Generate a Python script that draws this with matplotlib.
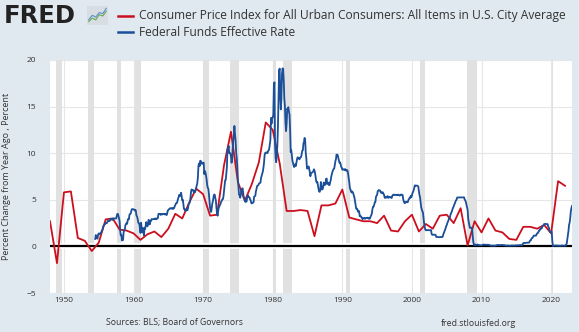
import matplotlib
matplotlib.use("Agg")
import matplotlib.pyplot as plt
import matplotlib.dates as mdates
import pandas as pd
import numpy as np

# CPI, percent change from year ago (annual, Dec/Dec), 1948-2022
cpi_years = list(range(1948, 2023))
cpi_pct = [2.7, -1.8, 5.8, 5.9, 0.9, 0.6, -0.5, 0.4, 2.9, 3.0,
           1.8, 1.7, 1.4, 0.7, 1.3, 1.6, 1.0, 1.9, 3.5, 3.0,
           4.7, 6.2, 5.6, 3.3, 3.4, 8.7, 12.3, 6.9, 4.9, 6.7,
           9.0, 13.3, 12.5, 8.9, 3.8, 3.8, 3.9, 3.8, 1.1, 4.4,
           4.4, 4.6, 6.1, 3.1, 2.9, 2.7, 2.7, 2.5, 3.3, 1.7,
           1.6, 2.7, 3.4, 1.6, 2.4, 1.9, 3.3, 3.4, 2.5, 4.1,
           0.1, 2.7, 1.5, 3.0, 1.7, 1.5, 0.8, 0.7, 2.1, 2.1,
           1.9, 2.3, 1.4, 7.0, 6.5]

# Federal funds effective rate, monthly from 1954-07
ff_start = "1954-07-01"
fedfunds = [
    0.80, 1.22, 1.07, 0.85, 0.83, 1.28,
    1.39, 1.29, 1.35, 1.43, 1.43, 1.64, 1.68, 1.96, 2.18, 2.24, 2.35, 2.48,
    2.45, 2.50, 2.50, 2.62, 2.75, 2.71, 2.75, 2.73, 2.95, 2.96, 2.88, 2.94,
    2.84, 3.00, 2.96, 3.00, 3.00, 3.00, 2.99, 3.24, 3.47, 3.50, 3.28, 2.98,
    2.72, 1.67, 1.20, 1.26, 0.63, 0.93, 0.68, 1.53, 1.76, 1.80, 2.27, 2.42,
    2.48, 2.43, 2.80, 2.96, 2.90, 3.39, 3.47, 3.50, 3.76, 3.98, 4.00, 3.99,
    3.99, 3.97, 3.84, 3.92, 3.85, 3.32, 3.23, 2.98, 2.60, 2.47, 2.44, 1.98,
    1.45, 2.54, 2.02, 1.49, 1.98, 1.73, 1.17, 2.00, 1.88, 2.26, 2.61, 2.33,
    2.15, 2.37, 2.85, 2.78, 2.36, 2.68, 2.71, 2.93, 2.90, 2.90, 2.94, 2.93,
    2.92, 3.00, 2.98, 2.90, 3.00, 2.99, 3.02, 3.49, 3.48, 3.50, 3.48, 3.38,
    3.48, 3.48, 3.43, 3.47, 3.50, 3.50, 3.42, 3.50, 3.45, 3.36, 3.52, 3.85,
    3.90, 3.98, 4.04, 4.09, 4.10, 4.04, 4.09, 4.12, 4.01, 4.08, 4.10, 4.32,
    4.42, 4.60, 4.65, 4.67, 4.90, 5.17, 5.30, 5.53, 5.40, 5.53, 5.76, 5.40,
    4.94, 5.00, 4.53, 4.05, 3.94, 3.98, 3.79, 3.90, 3.99, 3.88, 4.13, 4.51,
    4.61, 4.71, 5.05, 5.76, 6.11, 6.07, 6.02, 6.03, 5.78, 5.91, 5.82, 6.02,
    6.30, 6.61, 6.79, 7.41, 8.67, 8.90, 8.61, 9.19, 9.15, 9.00, 8.85, 8.97,
    8.98, 8.98, 7.76, 8.10, 7.95, 7.61, 7.21, 6.61, 6.29, 6.20, 5.60, 4.90,
    4.14, 3.72, 3.71, 4.15, 4.63, 4.91, 5.31, 5.56, 5.55, 5.20, 4.91, 4.14,
    3.50, 3.29, 3.83, 4.17, 4.27, 4.46, 4.55, 4.80, 4.87, 5.04, 5.06, 5.33,
    5.94, 6.58, 7.09, 7.12, 7.84, 8.49, 10.40, 10.50, 10.78, 10.01, 10.03, 9.95,
    9.65, 8.97, 9.35, 10.51, 11.31, 11.93, 12.92, 12.01, 11.34, 10.06, 9.45, 8.53,
    7.13, 6.24, 5.54, 5.49, 5.22, 5.55, 6.10, 6.14, 6.24, 5.82, 5.22, 5.20,
    4.87, 4.77, 4.84, 4.82, 5.29, 5.48, 5.31, 5.29, 5.25, 5.03, 4.95, 4.65,
    4.61, 4.68, 4.69, 4.73, 5.35, 5.39, 5.42, 5.90, 6.14, 6.47, 6.51, 6.56,
    6.70, 6.78, 6.79, 6.89, 7.36, 7.60, 7.81, 8.04, 8.45, 8.96, 9.76, 10.03,
    10.07, 10.06, 10.09, 10.01, 10.24, 10.29, 10.47, 10.94, 11.43, 13.77, 13.18, 13.78,
    13.82, 14.13, 17.19, 17.61, 10.98, 9.47, 9.03, 9.61, 10.87, 12.81, 15.85, 18.90,
    19.08, 15.93, 14.70, 15.72, 18.52, 19.10, 19.04, 17.82, 15.87, 15.08, 13.31, 12.37,
    13.22, 14.78, 14.68, 14.94, 14.45, 14.15, 12.59, 10.12, 10.31, 9.71, 9.20, 8.95,
    8.68, 8.51, 8.77, 8.80, 8.63, 8.98, 9.37, 9.56, 9.45, 9.48, 9.34, 9.47,
    9.56, 9.59, 9.91, 10.29, 10.32, 11.06, 11.23, 11.64, 11.30, 9.99, 9.43, 8.38,
    8.35, 8.50, 8.58, 8.27, 7.97, 7.53, 7.88, 7.90, 7.92, 7.99, 8.05, 8.27,
    8.14, 7.86, 7.48, 6.99, 6.85, 6.92, 6.56, 6.17, 5.89, 5.85, 6.04, 6.91,
    6.43, 6.10, 6.13, 6.37, 6.85, 6.73, 6.58, 6.73, 7.22, 7.29, 6.69, 6.77,
    6.83, 6.58, 6.58, 6.87, 7.09, 7.51, 7.75, 8.01, 8.19, 8.30, 8.35, 8.76,
    9.12, 9.36, 9.85, 9.84, 9.81, 9.53, 9.24, 8.99, 9.02, 8.84, 8.55, 8.45,
    8.23, 8.24, 8.28, 8.26, 8.18, 8.29, 8.15, 8.13, 8.20, 8.11, 7.81, 7.31,
    6.91, 6.25, 6.12, 5.91, 5.78, 5.90, 5.82, 5.66, 5.45, 5.21, 4.81, 4.43,
    4.03, 4.06, 3.98, 3.73, 3.82, 3.76, 3.25, 3.30, 3.22, 3.10, 3.09, 2.92,
    3.02, 3.03, 3.07, 2.96, 3.00, 3.04, 3.06, 3.03, 3.09, 2.99, 3.02, 2.96,
    3.05, 3.25, 3.34, 3.56, 4.01, 4.25, 4.26, 4.47, 4.73, 4.76, 5.29, 5.45,
    5.53, 5.92, 5.98, 6.05, 6.01, 6.00, 5.85, 5.74, 5.80, 5.76, 5.80, 5.60,
    5.56, 5.22, 5.31, 5.22, 5.24, 5.27, 5.40, 5.22, 5.30, 5.24, 5.31, 5.29,
    5.25, 5.19, 5.39, 5.51, 5.50, 5.56, 5.52, 5.54, 5.54, 5.50, 5.52, 5.50,
    5.56, 5.51, 5.49, 5.45, 5.49, 5.56, 5.54, 5.55, 5.51, 5.07, 4.83, 4.68,
    4.63, 4.76, 4.81, 4.74, 4.74, 4.76, 4.99, 5.07, 5.22, 5.20, 5.42, 5.30,
    5.45, 5.73, 5.85, 6.02, 6.27, 6.53, 6.54, 6.50, 6.52, 6.51, 6.51, 6.40,
    5.98, 5.49, 5.31, 4.80, 4.21, 3.97, 3.77, 3.65, 3.07, 2.49, 2.09, 1.82,
    1.73, 1.74, 1.73, 1.75, 1.75, 1.75, 1.73, 1.74, 1.75, 1.75, 1.34, 1.24,
    1.24, 1.26, 1.25, 1.26, 1.26, 1.22, 1.01, 1.03, 1.01, 1.01, 1.00, 0.98,
    1.00, 1.01, 1.00, 1.00, 1.00, 1.03, 1.26, 1.43, 1.61, 1.76, 1.93, 2.16,
    2.28, 2.50, 2.63, 2.79, 3.00, 3.04, 3.26, 3.50, 3.62, 3.78, 4.00, 4.16,
    4.29, 4.49, 4.59, 4.79, 4.94, 4.99, 5.24, 5.25, 5.25, 5.25, 5.25, 5.24,
    5.25, 5.26, 5.26, 5.25, 5.25, 5.25, 5.26, 5.02, 4.94, 4.76, 4.49, 4.24,
    3.94, 2.98, 2.61, 2.28, 1.98, 2.00, 2.01, 2.00, 1.81, 0.97, 0.39, 0.16,
    0.15, 0.22, 0.18, 0.15, 0.18, 0.21, 0.16, 0.16, 0.15, 0.12, 0.12, 0.12,
    0.11, 0.13, 0.16, 0.20, 0.20, 0.18, 0.18, 0.19, 0.19, 0.19, 0.19, 0.18,
    0.17, 0.16, 0.14, 0.10, 0.09, 0.09, 0.07, 0.10, 0.08, 0.07, 0.08, 0.07,
    0.08, 0.10, 0.13, 0.14, 0.16, 0.16, 0.16, 0.13, 0.14, 0.16, 0.16, 0.16,
    0.14, 0.15, 0.14, 0.15, 0.11, 0.09, 0.09, 0.08, 0.08, 0.09, 0.08, 0.09,
    0.07, 0.07, 0.08, 0.09, 0.09, 0.10, 0.09, 0.09, 0.09, 0.09, 0.09, 0.12,
    0.11, 0.11, 0.11, 0.12, 0.12, 0.13, 0.13, 0.14, 0.14, 0.12, 0.12, 0.24,
    0.34, 0.38, 0.36, 0.37, 0.37, 0.38, 0.39, 0.40, 0.40, 0.40, 0.41, 0.54,
    0.65, 0.66, 0.79, 0.90, 0.91, 1.04, 1.15, 1.16, 1.15, 1.15, 1.16, 1.30,
    1.41, 1.42, 1.51, 1.69, 1.70, 1.82, 1.91, 1.91, 1.95, 2.19, 2.20, 2.27,
    2.40, 2.40, 2.41, 2.42, 2.39, 2.38, 2.40, 2.13, 2.04, 1.83, 1.55, 1.55,
    1.55, 1.58, 0.65, 0.05, 0.05, 0.08, 0.09, 0.10, 0.09, 0.09, 0.09, 0.09,
    0.09, 0.08, 0.07, 0.07, 0.06, 0.08, 0.10, 0.09, 0.08, 0.08, 0.08, 0.08,
    0.08, 0.08, 0.20, 0.33, 0.77, 1.21, 1.68, 2.33, 2.56, 3.08, 3.78, 4.10,
    4.33,
]

recessions = [("1948-11-01", "1949-10-01"), ("1953-07-01", "1954-05-01"),
              ("1957-08-01", "1958-04-01"), ("1960-04-01", "1961-02-01"),
              ("1969-12-01", "1970-11-01"), ("1973-11-01", "1975-03-01"),
              ("1980-01-01", "1980-07-01"), ("1981-07-01", "1982-11-01"),
              ("1990-07-01", "1991-03-01"), ("2001-03-01", "2001-11-01"),
              ("2007-12-01", "2009-06-01"), ("2020-02-01", "2020-04-01")]

red = "#cc0f1e"
blue = "#1b4f98"
bg = "#e1e9f0"
plt.rcParams["font.family"] = ["Open Sans", "DejaVu Sans"]

fig = plt.figure(figsize=(5.79, 3.32), dpi=100, facecolor=bg)
ax = fig.add_axes([50 / 579, 39 / 332, 522 / 579, 233 / 332])
ax.set_facecolor("white")

cpi_dates = pd.to_datetime([f"{y}-01-01" for y in cpi_years])
ff_dates = pd.date_range(ff_start, periods=len(fedfunds), freq="MS")

for s, e in recessions:
    ax.axvspan(pd.Timestamp(s), pd.Timestamp(e), color="#e1e1e1", lw=0, zorder=1)

ax.set_ylim(-5, 20)
ax.set_yticks([-5, 0, 5, 10, 15, 20])
ax.set_xlim(pd.Timestamp("1948-01-01"), pd.Timestamp("2023-01-01"))
ax.xaxis.set_major_locator(mdates.YearLocator(10))
ax.xaxis.set_major_formatter(mdates.DateFormatter("%Y"))
ax.grid(True, color="#e6e6e6", lw=0.8, zorder=0)
ax.set_axisbelow(True)

ax.axhline(0, color="white", lw=4, zorder=2)
ax.axhline(0, color="black", lw=1.6, zorder=2.5)

ax.plot(cpi_dates, cpi_pct, color=red, lw=1.3, zorder=3)
ax.plot(ff_dates, fedfunds, color=blue, lw=1.3, zorder=4)

for sp in ax.spines.values():
    sp.set_visible(False)
ax.tick_params(length=0, labelsize=6, colors="#333333")
ax.tick_params(axis="x", pad=3)
ax.tick_params(axis="y", pad=10)
ax.set_ylabel("Percent Change from Year Ago , Percent", fontsize=6.5, color="#333333", labelpad=11)

# header: logo + legend
fig.text(4 / 579, 1 - 16 / 332, "FRED", fontsize=17.5, fontweight="bold", color="#222222",
         va="center", ha="left", family="DejaVu Sans")
icon = fig.add_axes([87 / 579, 1 - 25 / 332, 21 / 579, 19 / 332])
icon.set_facecolor("#d7dde3")
icon.set_xticks([])
icon.set_yticks([])
for sp in icon.spines.values():
    sp.set_visible(False)
icon.plot([0, 1, 2, 3, 4, 5], [1, 2, 1.5, 3, 2.6, 4], color="#6aa84f", lw=0.8)
icon.plot([0, 1, 2, 3, 4, 5], [1.5, 2.8, 2.3, 3.6, 3.3, 4.8], color="#5b8fc9", lw=0.8)
icon.set_xlim(-0.5, 5.5)
icon.set_ylim(0, 5.5)

legend_items = [("Consumer Price Index for All Urban Consumers: All Items in U.S. City Average", red),
                ("Federal Funds Effective Rate", blue)]
for i, (label, c) in enumerate(legend_items):
    y = 1 - (16 + i * 16) / 332
    fig.add_artist(plt.Line2D([118 / 579, 133 / 579], [y, y], color=c, lw=1.8))
    fig.text(139 / 579, y, label, fontsize=8.65, color="#333333", va="center", ha="left")

fig.text(175 / 579, 1 - 323 / 332, "Sources: BLS; Board of Governors", fontsize=6.3,
         color="#333333", ha="center", va="center")
fig.text(478 / 579, 1 - 323 / 332, "fred.stlouisfed.org", fontsize=6.3,
         color="#333333", ha="center", va="center")

fig.savefig("out.png", dpi=100, facecolor=bg)
